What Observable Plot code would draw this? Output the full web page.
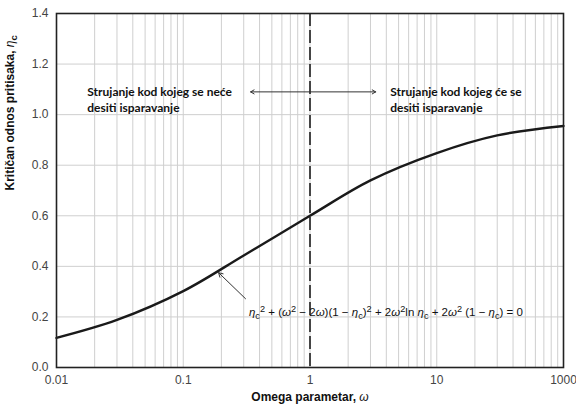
<!DOCTYPE html>
<html>
<head>
<meta charset="utf-8">
<script src="https://cdn.jsdelivr.net/npm/d3@7"></script>
<script src="https://cdn.jsdelivr.net/npm/@observablehq/plot@0.6"></script>
<style>
  html, body { margin: 0; padding: 0; background: #fff; }
  #chart { width: 576px; height: 405px; }
</style>
</head>
<body>
<div id="chart"></div>
<script>
// Data
const omega = [0.01, 0.03, 0.1, 0.3, 1, 3, 10, 30, 100];
const eta   = [0.117, 0.188, 0.302, 0.443, 0.60, 0.74, 0.848, 0.918, 0.955];

const xTickValues = [0.01, 0.1, 1, 10, 100];
const xTickLabels = ["0.01", "0.1", "1", "10", "1000"];
const yTickValues = [0, 0.2, 0.4, 0.6, 0.8, 1.0, 1.2, 1.4];
const yTickLabels = ["0.0", "0.2", "0.4", "0.6", "0.8", "1.0", "1.2", "1.4"];

const boundary = [1];
const leftNote = "Strujanje kod kojeg se neće\ndesiti isparavanje";
const rightNote = "Strujanje kod kojeg će se\ndesiti isparavanje";
const equationText = "EQUATION";
const xTitle = "Omega parametar, ω";
const yTitle = "Kritičan odnos pritisaka, η";

// annotation anchors (data coordinates)
const leftNotePos = {x: 0.0175, y: 1.09};
const rightNotePos = {x: 4.3, y: 1.09};
const rangeArrows = [
  {x1: 1, y1: 1.09, x2: 0.34, y2: 1.09},
  {x1: 1, y1: 1.09, x2: 3.3, y2: 1.09}
];
const eqPos = {x: 0.33, y: 0.22};
const eqArrow = [{x1: 0.31, y1: 0.272, x2: 0.19, y2: 0.375}];

const curve = omega.map((w, i) => ({w, eta: eta[i]}));
const gridX = d3.scaleLog().domain([0.01, 100]).ticks();
const gridY = [0.2, 0.4, 0.6, 0.8, 1.0, 1.2];

const chart = Plot.plot({
  width: 576,
  height: 405,
  marginLeft: 56,
  marginRight: 13,
  marginTop: 13,
  marginBottom: 38,
  style: {fontFamily: "'Liberation Sans', Arial, sans-serif", fontSize: "12px", color: "#333", background: "#fff"},
  x: {type: "log", domain: [0.01, 100]},
  y: {domain: [0, 1.4]},
  marks: [
    Plot.ruleX(gridX, {stroke: "#cfcfcf", strokeWidth: 1}),
    Plot.ruleY(gridY, {stroke: "#cfcfcf", strokeWidth: 1}),
    Plot.axisX({ticks: xTickValues, tickFormat: (d) => xTickLabels[xTickValues.indexOf(d)], tickSize: 0, tickPadding: 8, label: null, fontSize: 12, fill: "#444"}),
    Plot.axisY({ticks: yTickValues, tickFormat: d => yTickLabels[yTickValues.findIndex(v => Math.abs(v - d) < 1e-9)], tickSize: 0, tickPadding: 8, label: null, fontSize: 12, fill: "#444"}),
    Plot.ruleX(boundary, {stroke: "#111", strokeWidth: 1.5, strokeDasharray: "13,4"}),
    Plot.line(curve, {x: "w", y: "eta", stroke: "#1a1a1a", strokeWidth: 2.4, curve: "catmull-rom"}),
    Plot.arrow(rangeArrows, {x1: "x1", y1: "y1", x2: "x2", y2: "y2", stroke: "#333", strokeWidth: 1, headLength: 6}),
    Plot.arrow(eqArrow, {x1: "x1", y1: "y1", x2: "x2", y2: "y2", stroke: "#333", strokeWidth: 1, headLength: 7}),
    Plot.text([leftNotePos], {x: "x", y: "y", text: () => leftNote, textAnchor: "start", lineAnchor: "top", lineHeight: 1.3, dy: -7, fontFamily: "Lato, 'Open Sans', sans-serif", fontWeight: "bold", fontSize: 12, fill: "#111"}),
    Plot.text([rightNotePos], {x: "x", y: "y", text: () => rightNote, textAnchor: "start", lineAnchor: "top", lineHeight: 1.3, dy: -7, fontFamily: "Lato, 'Open Sans', sans-serif", fontWeight: "bold", fontSize: 12, fill: "#111"}),
    Plot.text([eqPos], {x: "x", y: "y", text: () => equationText, textAnchor: "start", fontSize: 11.5, fill: "#111"}),
    Plot.text([xTitle], {frameAnchor: "bottom", dy: 33, text: d => d, fontWeight: "bold", fontSize: 12, fill: "#111"}),
    Plot.text([yTitle], {frameAnchor: "left", dx: -46, rotate: -90, text: d => d, fontWeight: "bold", fontSize: 12, fill: "#111"}),
    Plot.frame({stroke: "#222", strokeWidth: 1.6})
  ]
});

document.getElementById("chart").appendChild(chart);

// Rich text: italics, subscripts and superscripts
const svg = d3.select(chart);
function rich(textSel, parts) {
  textSel.text(null);
  for (const p of parts) {
    const t = textSel.append("tspan").text(p.t);
    if (p.i) t.attr("font-style", "italic").attr("font-weight", "normal");
    if (p.sub) t.attr("baseline-shift", "-3").attr("font-size", "0.8em");
    if (p.sup) t.attr("baseline-shift", "4").attr("font-size", "0.8em");
  }
}
svg.selectAll("text").each(function() {
  const s = d3.select(this);
  const txt = this.textContent;
  if (txt === equationText) {
    rich(s, [
      {t: "η", i: 1}, {t: "c", sub: 1}, {t: "2", sup: 1},
      {t: " + ("}, {t: "ω", i: 1}, {t: "2", sup: 1}, {t: " − 2"}, {t: "ω", i: 1},
      {t: ")(1 − "}, {t: "η", i: 1}, {t: "c", sub: 1}, {t: ")"}, {t: "2", sup: 1},
      {t: " + 2"}, {t: "ω", i: 1}, {t: "2", sup: 1}, {t: "ln "}, {t: "η", i: 1}, {t: "c", sub: 1},
      {t: " + 2"}, {t: "ω", i: 1}, {t: "2", sup: 1}, {t: " (1 − "}, {t: "η", i: 1}, {t: "c", sub: 1}, {t: ") = 0"}
    ]);
  } else if (txt === xTitle) {
    rich(s, [{t: "Omega parametar, "}, {t: "ω", i: 1}]);
  } else if (txt === yTitle) {
    rich(s, [{t: "Kritičan odnos pritisaka, "}, {t: "η", i: 1}, {t: "c", sub: 1}]);
  }
});
</script>
</body>
</html>
